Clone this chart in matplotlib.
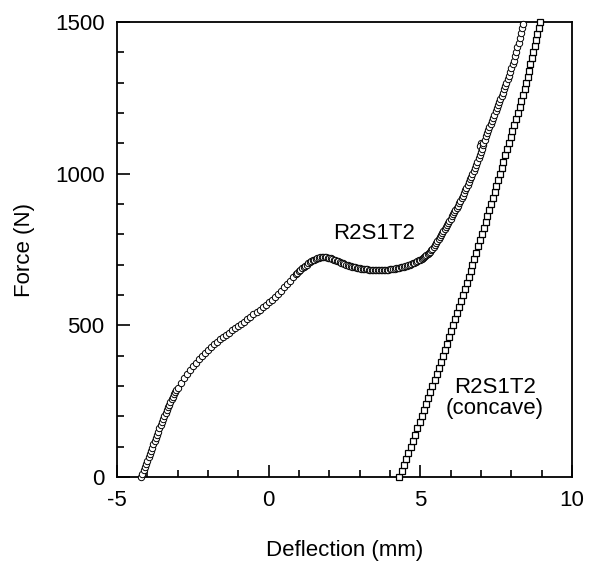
import matplotlib
matplotlib.use("Agg")
import matplotlib.pyplot as plt
from matplotlib.ticker import MultipleLocator

plt.rcParams['font.family'] = ['Liberation Sans', 'DejaVu Sans']
plt.rcParams['axes.unicode_minus'] = False

# Series 1: R2S1T2 (circles)
defl_flat = [
    -4.20, -4.16, -4.12, -4.08, -4.04, -4.00, -3.96, -3.92, -3.88, -3.84,
    -3.80, -3.76, -3.72, -3.68, -3.64, -3.60, -3.56, -3.52, -3.48, -3.44,
    -3.40, -3.36, -3.32, -3.28, -3.24, -3.20, -3.16, -3.12, -3.08, -3.04,
    -3.00, -2.90, -2.80, -2.70, -2.60, -2.50, -2.40, -2.30, -2.20, -2.10,
    -2.00, -1.90, -1.80, -1.70, -1.60, -1.50, -1.40, -1.30, -1.20, -1.10,
    -1.00, -0.90, -0.80, -0.70, -0.60, -0.50, -0.40, -0.30, -0.20, -0.10,
    0.00, 0.10, 0.20, 0.30, 0.40, 0.50, 0.60, 0.70, 0.80, 0.90,
    0.95, 1.00, 1.05, 1.10, 1.15, 1.20, 1.25, 1.30, 1.35, 1.40,
    1.45, 1.50, 1.55, 1.60, 1.65, 1.70, 1.75, 1.80, 1.85, 1.90,
    1.95, 2.00, 2.05, 2.10, 2.15, 2.20, 2.25, 2.30, 2.35, 2.40,
    2.45, 2.50, 2.55, 2.60, 2.65, 2.70, 2.75, 2.80, 2.85, 2.90,
    2.95, 3.00, 3.05, 3.10, 3.15, 3.20, 3.25, 3.30, 3.35, 3.40,
    3.45, 3.50, 3.55, 3.60, 3.65, 3.70, 3.75, 3.80, 3.85, 3.90,
    3.95, 4.00, 4.05, 4.10, 4.15, 4.20, 4.25, 4.30, 4.35, 4.40,
    4.45, 4.50, 4.55, 4.60, 4.65, 4.70, 4.75, 4.80, 4.85, 4.90,
    4.95, 5.00, 5.04, 5.08, 5.12, 5.16, 5.20, 5.24, 5.28, 5.32,
    5.36, 5.40, 5.44, 5.48, 5.52, 5.56, 5.60, 5.64, 5.68, 5.72,
    5.76, 5.80, 5.84, 5.88, 5.92, 5.96, 6.00, 6.04, 6.08, 6.12,
    6.16, 6.20, 6.24, 6.28, 6.32, 6.36, 6.40, 6.44, 6.48, 6.52,
    6.56, 6.60, 6.64, 6.68, 6.72, 6.76, 6.80, 6.84, 6.88, 6.92,
    6.96, 7.00, 7.04, 7.00, 6.96, 7.02, 7.06, 7.08, 7.12, 7.16,
    7.20, 7.24, 7.28, 7.32, 7.36, 7.40, 7.44, 7.48, 7.52, 7.56,
    7.60, 7.64, 7.68, 7.72, 7.76, 7.80, 7.84, 7.88, 7.92, 7.96,
    8.00, 8.04, 8.08, 8.12, 8.16, 8.20, 8.24, 8.28, 8.32, 8.35,
    8.37,
]
force_flat = [
    0, 11, 22, 33, 44, 54, 65, 76, 87, 97,
    108, 119, 129, 140, 150, 161, 172, 182, 192, 202,
    212, 221, 230, 239, 248, 256, 265, 273, 281, 288,
    295, 311, 326, 340, 353, 365, 377, 388, 399, 410,
    420, 429, 438, 446, 454, 462, 469, 476, 483, 490,
    497, 504, 512, 520, 528, 536, 544, 552, 560, 568,
    576, 585, 594, 604, 614, 625, 636, 647, 658, 668,
    673, 678, 683, 688, 692, 696, 700, 704, 708, 711,
    714, 717, 719, 721, 723, 724, 725, 725, 725, 724,
    723, 722, 721, 719, 717, 715, 713, 711, 709, 707,
    704, 702, 700, 698, 696, 694, 693, 692, 691, 690,
    689, 688, 687, 686, 686, 685, 685, 684, 684, 684,
    683, 683, 683, 683, 682, 682, 683, 683, 683, 684,
    684, 685, 685, 686, 687, 688, 689, 690, 691, 692,
    693, 695, 696, 698, 700, 702, 704, 706, 708, 711,
    714, 717, 720, 723, 726, 729, 732, 735, 739, 743,
    748, 753, 759, 765, 771, 778, 784, 791, 798, 804,
    810, 817, 824, 831, 838, 845, 852, 859, 866, 873,
    880, 887, 895, 903, 911, 919, 928, 936, 945, 954,
    963, 972, 981, 990, 1000, 1010, 1020, 1030, 1040, 1050,
    1060, 1070, 1084, 1100, 1092, 1080, 1096, 1100, 1112, 1124,
    1134, 1145, 1155, 1165, 1175, 1185, 1195, 1205, 1215, 1225,
    1236, 1246, 1257, 1267, 1278, 1289, 1300, 1311, 1323, 1335,
    1347, 1360, 1373, 1387, 1401, 1416, 1431, 1447, 1464, 1480,
    1492,
]

# Series 2: R2S1T2 (concave) (squares)
defl_concave = [
    4.31, 4.38, 4.46, 4.53, 4.61, 4.68, 4.75, 4.83, 4.90, 4.98,
    5.05, 5.12, 5.19, 5.26, 5.33, 5.40, 5.47, 5.54, 5.61, 5.68,
    5.75, 5.82, 5.88, 5.95, 6.01, 6.08, 6.14, 6.21, 6.27, 6.34,
    6.40, 6.46, 6.53, 6.59, 6.66, 6.72, 6.78, 6.84, 6.91, 6.97,
    7.03, 7.09, 7.15, 7.21, 7.27, 7.33, 7.39, 7.45, 7.50, 7.56,
    7.62, 7.68, 7.74, 7.80, 7.86, 7.92, 7.98, 8.03, 8.09, 8.15,
    8.21, 8.27, 8.32, 8.38, 8.44, 8.50, 8.54, 8.59, 8.63, 8.68,
    8.72, 8.77, 8.81, 8.86, 8.90, 8.95,
]
force_concave = [
    0, 20, 40, 60, 80, 100, 120, 140, 160, 180,
    200, 220, 240, 260, 280, 300, 320, 340, 360, 380,
    400, 420, 440, 460, 480, 500, 520, 540, 560, 580,
    600, 620, 640, 660, 680, 700, 720, 740, 760, 780,
    800, 820, 840, 860, 880, 900, 920, 940, 960, 980,
    1000, 1020, 1040, 1060, 1080, 1100, 1120, 1140, 1160, 1180,
    1200, 1220, 1240, 1260, 1280, 1300, 1320, 1340, 1360, 1380,
    1400, 1420, 1440, 1460, 1480, 1500,
]

label_flat = "R2S1T2"
label_concave = "R2S1T2\n(concave)"

fig = plt.figure(figsize=(5.89, 5.61), dpi=100)
ax = fig.add_axes([0.1986, 0.1497, 0.7725, 0.8111])

ax.plot(defl_flat, force_flat, linestyle='none', marker='o', markersize=4.6,
        markerfacecolor='white', markeredgecolor='black', markeredgewidth=0.7,
        clip_on=False, zorder=3)
ax.plot(defl_concave, force_concave, linestyle='none', marker='s', markersize=4.6,
        markerfacecolor='white', markeredgecolor='black', markeredgewidth=0.9,
        clip_on=False, zorder=3)

fs = 16
ax.text(3.47, 803, label_flat, ha='center', va='center', fontsize=fs)
ax.text(7.46, 262, label_concave, ha='center', va='center', fontsize=fs,
        linespacing=1.0)

ax.set_xlim(-5, 10)
ax.set_ylim(0, 1500)
ax.xaxis.set_major_locator(MultipleLocator(5))
ax.xaxis.set_minor_locator(MultipleLocator(1))
ax.yaxis.set_major_locator(MultipleLocator(500))
ax.yaxis.set_minor_locator(MultipleLocator(100))
ax.tick_params(which='both', direction='in', top=False, right=False,
               labelsize=fs, width=1.2)
ax.tick_params(axis='x', which='major', length=9, pad=9)
ax.tick_params(axis='y', which='major', length=9, pad=9)
ax.tick_params(which='minor', length=5)
for s in ax.spines.values():
    s.set_linewidth(1.3)

ax.set_xlabel("Deflection (mm)", fontsize=fs, labelpad=21)
ax.set_ylabel("Force (N)", fontsize=fs, labelpad=14)

fig.savefig("out.png", dpi=100)
